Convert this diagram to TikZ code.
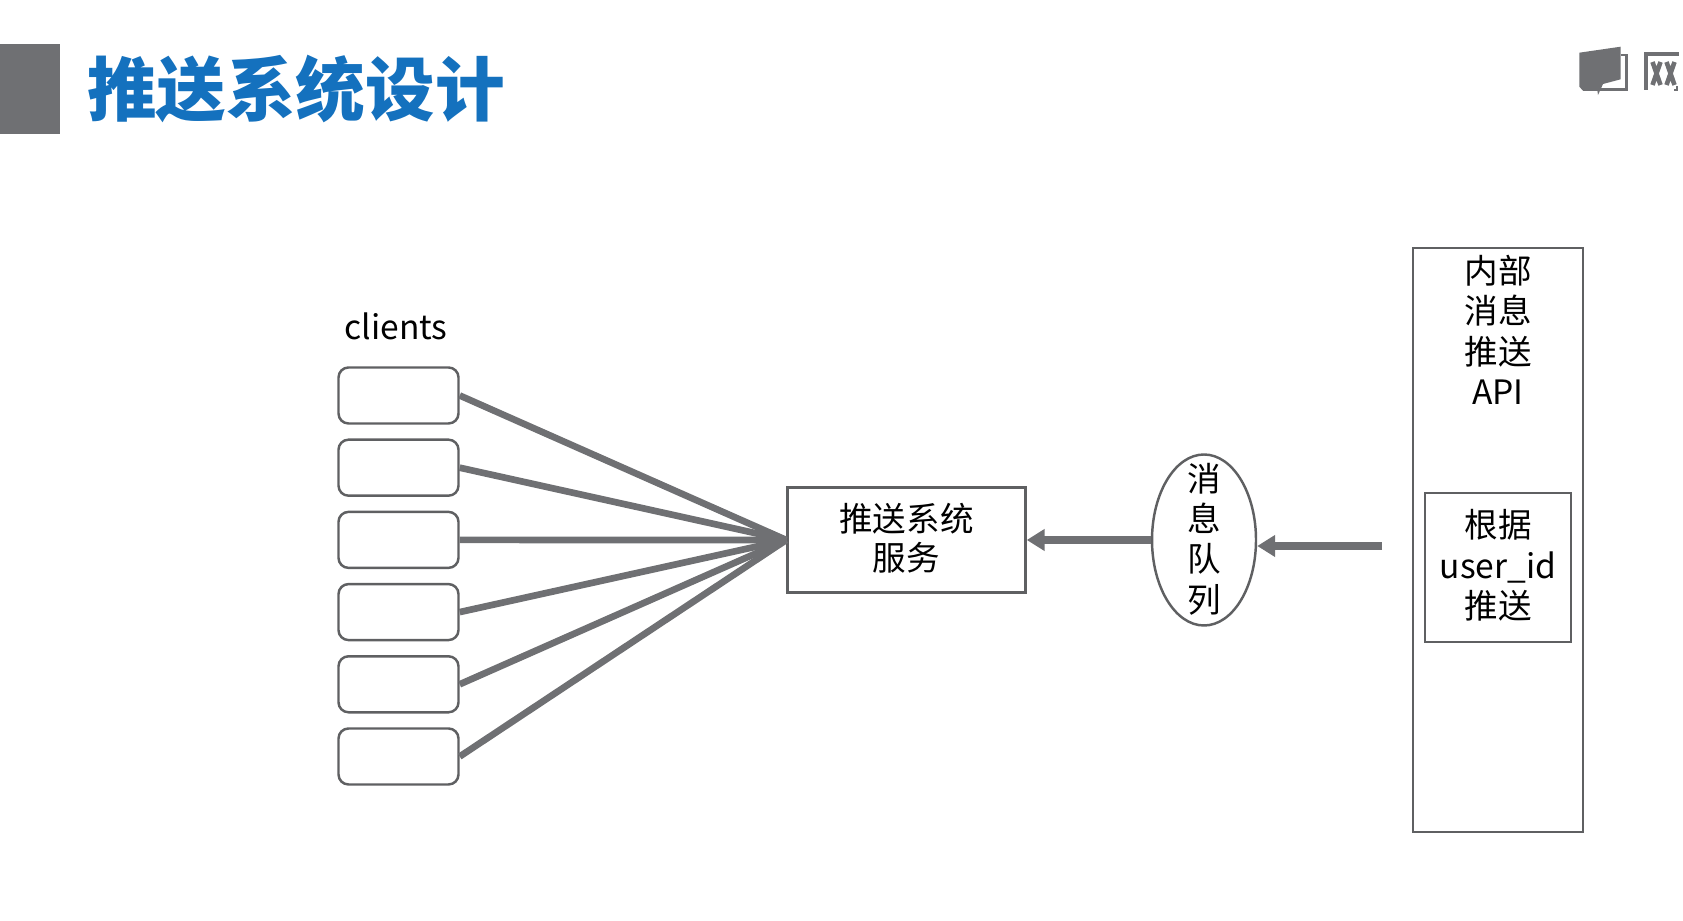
\documentclass[tikz,border=0pt]{standalone}
\usepackage{fontspec}
\setmainfont{Noto Sans CJK SC}
\usetikzlibrary{arrows.meta,shapes.geometric}
\definecolor{slategray}{HTML}{6F7073}
\definecolor{edgegray}{HTML}{5F6062}
\definecolor{titleblue}{HTML}{1471BE}
\tikzset{
  boxtext/.style={font=\fontsize{9.55}{11.5}\selectfont, text=black, align=center, inner sep=0pt},
  clientbox/.style={draw=edgegray, line width=0.7pt, rounded corners=0.1cm, minimum width=1.2cm, minimum height=0.56cm, inner sep=0pt},
  plainbox/.style={draw=edgegray, line width=0.7pt, inner sep=0pt},
  fanline/.style={slategray, line width=1.9pt},
  pusharrow/.style={-{Triangle[length=0.18cm,width=0.21cm]}, slategray, line width=2pt}
}
\begin{document}
\begin{tikzpicture}
    \useasboundingbox (0,0) rectangle (16.83,9.21);

    % Title bar
    \fill[slategray] (0,8.77) rectangle (0.6,7.87);
    \node[anchor=west, inner sep=0pt, text=titleblue, font=\fontsize{19.8}{19.8}\selectfont\bfseries] (title) at (0.865,8.32) {推送系统设计};

    % Corner icons
    \fill[slategray] (15.793,8.683) -- (16.207,8.743) -- (16.207,8.417) -- (16.03,8.37) -- (15.98,8.26) -- (15.97,8.33) -- (15.83,8.303) -- (15.793,8.343) -- cycle;
    \draw[slategray, line width=0.8pt] (16.207,8.66) -- (16.267,8.66) -- (16.267,8.317) -- (15.83,8.317);
    \draw[slategray, line width=1pt] (16.46,8.31) -- (16.46,8.67) -- (16.79,8.67);
    \draw[slategray, line width=0.8pt] (16.74,8.31) -- (16.77,8.31) -- (16.77,8.35);
    \draw[slategray, line width=1.3pt] (16.525,8.59) -- (16.605,8.36) (16.605,8.59) -- (16.525,8.36);
    \draw[slategray, line width=1.3pt] (16.665,8.59) -- (16.745,8.36) (16.745,8.59) -- (16.665,8.36);

    % Clients
    \node[boxtext] (clients) at (3.96,5.95) {clients};
    \foreach \i in {1,...,6} {
        \node[clientbox] (c\i) at (3.985,{5.255-0.722*(\i-1)}) {};
    }

    % Push service and queue
    \node[plainbox, minimum width=2.38cm, minimum height=1.05cm] (svc) at (9.065,3.81) {};
    \node[boxtext, font=\fontsize{9.55}{11}\selectfont] (svctext) at (9.065,3.83) {推送系统\\服务};
    \node[draw=edgegray, line width=0.7pt, ellipse, inner sep=0pt, minimum width=1.04cm, minimum height=1.71cm] (queue) at (12.04,3.81) {};
    \node[boxtext] (queuetext) at (12.04,3.82) {消\\息\\队\\列};

    % Internal API column
    \node[plainbox, minimum width=1.7cm, minimum height=5.84cm] (api) at (14.98,3.81) {};
    \node[boxtext, anchor=north] (apitext) at (14.98,6.665) {内部\\消息\\推送\\API};
    \node[plainbox, minimum width=1.46cm, minimum height=1.49cm] (bypush) at (14.98,3.535) {};
    \node[boxtext] (bypushtext) at (14.98,3.555) {根据\\user\_id\\推送};

    % Fan of connections
    \foreach \i in {1,...,6} {
        \draw[fanline] (c\i.east) -- (svc.west);
    }

    % Arrows
    \coordinate (src) at (13.82,3.75);
    \draw[pusharrow] (queue.west) -- (svc.east);
    \draw[pusharrow] (src) -- (queue.east |- src);
\end{tikzpicture}
\end{document}
